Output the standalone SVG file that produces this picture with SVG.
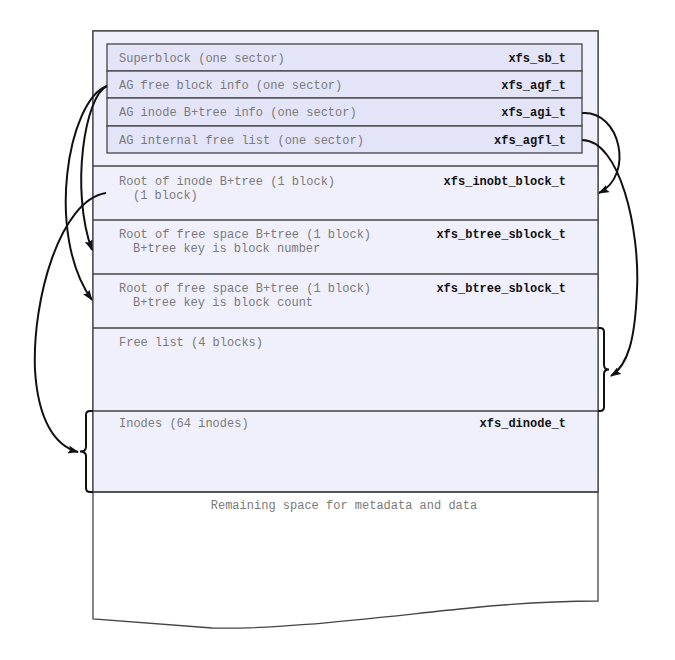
<svg xmlns="http://www.w3.org/2000/svg" width="675" height="660" viewBox="0 0 675 660">
<style>
.t{font-family:"Liberation Mono","Courier New",monospace;font-size:12px;fill:#7a7a7a}
.b{font-family:"Liberation Mono","Courier New",monospace;font-size:12px;font-weight:bold;fill:#111;text-anchor:end}
.sep{stroke:#444;stroke-width:1.3;fill:none}
.hdr{fill:#e4e4f8;stroke:#444;stroke-width:1.3}
.con{fill:none;stroke:#111;stroke-width:2}
.brace{fill:none;stroke:#111;stroke-width:2}
</style>
<defs>
<marker id="ah" viewBox="0 0 11 8" refX="10" refY="4" markerWidth="11" markerHeight="8" markerUnits="userSpaceOnUse" orient="auto">
<path d="M0,0 L11,4 L0,8 L2,4 Z" fill="#111"/>
</marker>
</defs>
<rect width="675" height="660" fill="#fff"/>
<g id="ag">
<path d="M93,31 H598 V601 C560,601 520,603 470,608 C380,617 280,630 212,628 L93,619 Z" fill="#fff" stroke="#444" stroke-width="1.3"/>
<rect x="93" y="31" width="505" height="461" fill="#f0f0fc" stroke="#444" stroke-width="1.3"/>
</g>
<g id="superblock"><rect class="hdr" x="107" y="44" width="475" height="27"/>
<text class="t" x="119" y="62">Superblock (one sector)</text><text class="b" x="566" y="62">xfs_sb_t</text></g>
<g id="agf"><rect class="hdr" x="107" y="71" width="475" height="27"/>
<text class="t" x="119" y="89">AG free block info (one sector)</text><text class="b" x="566" y="89">xfs_agf_t</text></g>
<g id="agi"><rect class="hdr" x="107" y="98" width="475" height="28"/>
<text class="t" x="119" y="116">AG inode B+tree info (one sector)</text><text class="b" x="566" y="116">xfs_agi_t</text></g>
<g id="agfl"><rect class="hdr" x="107" y="126" width="475" height="27"/>
<text class="t" x="119" y="144">AG internal free list (one sector)</text><text class="b" x="566" y="144">xfs_agfl_t</text></g>
<g id="inobt"><line class="sep" x1="93" y1="166" x2="598" y2="166"/>
<text class="t" x="119" y="185">Root of inode B+tree (1 block)</text><text class="t" x="133" y="199">(1 block)</text><text class="b" x="566" y="185">xfs_inobt_block_t</text></g>
<g id="bnobt"><line class="sep" x1="93" y1="220" x2="598" y2="220"/>
<text class="t" x="119" y="238">Root of free space B+tree (1 block)</text><text class="t" x="133" y="252">B+tree key is block number</text><text class="b" x="566" y="238">xfs_btree_sblock_t</text></g>
<g id="cntbt"><line class="sep" x1="93" y1="274" x2="598" y2="274"/>
<text class="t" x="119" y="292">Root of free space B+tree (1 block)</text><text class="t" x="133" y="306">B+tree key is block count</text><text class="b" x="566" y="292">xfs_btree_sblock_t</text></g>
<g id="freelist"><line class="sep" x1="93" y1="328" x2="598" y2="328"/>
<text class="t" x="119" y="346">Free list (4 blocks)</text>
<path class="brace" d="M598,328 H600 Q604,328 604,332 V365 Q604,369.5 609,369.5 Q604,369.5 604,374 V407 Q604,411 600,411 H598"/></g>
<g id="inodes"><line class="sep" x1="93" y1="411" x2="598" y2="411"/>
<text class="t" x="119" y="427">Inodes (64 inodes)</text><text class="b" x="566" y="427">xfs_dinode_t</text>
<path class="brace" d="M93,411 H90 Q86,411 86,415 V447 Q86,451.5 80,451.5 Q86,451.5 86,456 V488 Q86,492 90,492 H93"/></g>
<g id="remaining"><line class="sep" x1="93" y1="492" x2="598" y2="492"/>
<text class="t" x="344" y="509" text-anchor="middle">Remaining space for metadata and data</text></g>
<g id="connectors">
<path class="con" d="M107,86 C85,95 70,190 92,250" marker-end="url(#ah)"/>
<path class="con" d="M107,86 C68,100 45,235 92,300" marker-end="url(#ah)"/>
<path class="con" d="M106,193 C60,200 32,300 35,370 C38,420 55,446 78,452" marker-end="url(#ah)"/>
<path class="con" d="M582,113 C620,110 635,175 599,193" marker-end="url(#ah)"/>
<path class="con" d="M582,140 C620,140 640,230 637,290 C635,340 628,365 611,376" marker-end="url(#ah)"/>
</g>
</svg>
